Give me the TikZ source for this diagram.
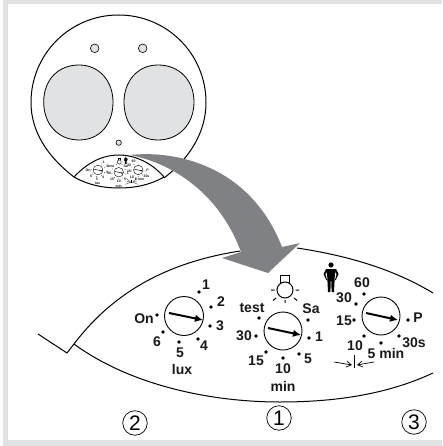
\documentclass[tikz,border=0pt]{standalone}
\usepackage{fontspec}
\setmainfont{Liberation Sans}
\usetikzlibrary{arrows.meta}
\definecolor{framegray}{HTML}{E1E2E3}
\definecolor{arrowgray}{HTML}{808184}
\tikzset{
  outline/.style={draw=black,line width=1pt},
  dialring/.style={draw=black,line width=0.9pt,fill=white},
  pointer/.style={draw=black,line width=2pt,-{Latex[length=8pt,width=7.5pt]}},
  iconline/.style={line width=1pt},
  thinline/.style={line width=0.7pt},
  lbl/.style={font=\bfseries\fontsize{14}{14}\selectfont,inner sep=0pt,text=black!90},
  circnum/.style={circle,draw=black,line width=0.7pt,minimum size=24.5pt,inner sep=0pt,font=\fontsize{21}{21}\selectfont},
  mini/.style={
    dialring/.append style={line width=0.4pt},
    pointer/.style={draw=black,line width=0.5pt,-{Latex[length=1.8pt,width=1.7pt]}},
    iconline/.style={line width=0.35pt},
    thinline/.style={line width=0.25pt}}
}
\newcommand{\dotat}[2]{\fill (#1,#2) circle (1.8);}
\newcommand{\luxdial}{%
  \draw[dialring] (184,316) circle (19.5);
  \draw[pointer] (169,313) -- (203,320);
  \foreach \x/\y in {199/292,211/307,210/326,198/339,179/342,163/332,157/315}{\dotat{\x}{\y}}
  \node[lbl] (luxa) at (206,285) {1};
  \node[lbl] (luxb) at (221,302) {2};
  \node[lbl] (luxc) at (220,326) {3};
  \node[lbl] (luxd) at (204,346) {4};
  \node[lbl] (luxe) at (180,353) {5};
  \node[lbl] (luxf) at (157,342) {6};
  \node[lbl] (luxon) at (144,319) {On};
  \node[lbl] (luxname) at (182,369) {lux};
}
\newcommand{\timedial}{%
  \draw[dialring] (283,331) circle (19);
  \draw[pointer] (268,328) -- (301,335);
  \foreach \x/\y in {259/318,256/336,266/352,283/358,299/354,309/338,308/320}{\dotat{\x}{\y}}
  \node[lbl] (tmtest) at (252,308) {test};
  \node[lbl] (tmb) at (244,336) {30};
  \node[lbl] (tmc) at (256,361) {15};
  \node[lbl] (tmd) at (283,369) {10};
  \node[lbl] (tme) at (283,386) {min};
  \node[lbl] (tmf) at (308,359) {5};
  \node[lbl] (tmg) at (319,337) {1};
  \node[lbl] (tmh) at (311,309) {Sa};
  % lamp icon
  \draw[iconline] (285,290) circle (8);
  \draw[iconline] (280.5,283) -- (280.5,275.5) -- (289,275.5) -- (289,283);
  \draw[iconline] (271,290) -- (274.5,290) (295.5,290) -- (299,290)
     (276,298) -- (273,300.5) (294,298) -- (297,300.5) (285,300) -- (285,303);
}
\newcommand{\presdial}{%
  \draw[dialring] (381,316) circle (19);
  \draw[pointer] (366,313) -- (398,320);
  \foreach \x/\y in {364/294,356/304,354/320,364/336,381/343,399/336,408/320}{\dotat{\x}{\y}}
  \node[lbl] (pra) at (362,283) {60};
  \node[lbl] (prb) at (344,298) {30};
  \node[lbl] (prc) at (344,321) {15};
  \node[lbl] (prd) at (355,346) {10};
  \node[lbl] (pre) at (386,353) {5 min};
  \node[lbl] (prf) at (414,343) {30s};
  \node[lbl] (prg) at (418,318) {P};
  % person icon
  \fill (331,265) circle (2.6);
  \fill (326,269) -- (336,269) -- (338.5,274) -- (335.8,280) -- (335,280) -- (336.6,274) -- (335,272) -- (334.5,282) -- (334,292) -- (331.6,292) -- (331.3,281) -- (330.7,281) -- (330.4,292) -- (328,292) -- (327.5,282) -- (327,272) -- (325.4,274) -- (327,280) -- (326.2,280) -- (323.5,274) -- cycle;
  % distance marker
  \draw[iconline] (354,355) -- (354,368);
  \draw[thinline,-{Straight Barb[length=5pt,width=6pt]}] (334,362) -- (352,365);
  \draw[thinline,-{Straight Barb[length=5pt,width=6pt]}] (374,362) -- (357,365);
}
\begin{document}
\begin{tikzpicture}[x=1pt,y=-1pt]
\useasboundingbox (0,0) rectangle (442,446);
% frame
\fill[framegray] (3,0) rectangle (442,446);
\fill[white] (8,4) rectangle (442,440);
% housing
\draw[outline] (74,177) .. controls (48,157) and (31,132) .. (31,102.5)
   .. controls (31,54) and (70,15) .. (118.5,15)
   .. controls (167,15) and (206,54) .. (206,102.5)
   .. controls (206,132) and (190,158) .. (164,178);
\fill[framegray,draw=black,line width=0.8pt] (43.7,102) .. controls (43.7,80) and (58,65) .. (79,65)
   .. controls (100,65) and (113,82) .. (113,102)
   .. controls (113,124) and (100,140) .. (79,140)
   .. controls (58,140) and (43.7,124) .. (43.7,102) -- cycle;
\fill[framegray,draw=black,line width=0.8pt] (124,102) .. controls (124,82) and (137,65) .. (158,65)
   .. controls (179,65) and (194,80) .. (194,102)
   .. controls (194,124) and (179,140) .. (158,140)
   .. controls (137,140) and (124,124) .. (124,102) -- cycle;
\filldraw[fill=framegray,draw=black,line width=0.6pt] (94.7,48.3) circle (4.3);
\filldraw[fill=framegray,draw=black,line width=0.6pt] (142.7,48.3) circle (4.3);
\filldraw[fill=framegray,draw=black,line width=0.6pt] (118.7,142.7) circle (2.7);
% small panel
\draw[outline] (74,177) .. controls (88,162) and (103,155) .. (119,155)
   .. controls (135,155) and (152,163) .. (164,177);
\draw[outline] (74,177) .. controls (88,185) and (103,188) .. (119,188)
   .. controls (135,188) and (150,185) .. (164,177);
\begin{scope}[shift={(52,91)},scale=0.25,transform shape,mini]
\luxdial
\end{scope}
\begin{scope}[shift={(48,89.5)},scale=0.25,transform shape,mini]
\timedial
\end{scope}
\begin{scope}[shift={(43,91)},scale=0.25,transform shape,mini]
\presdial
\end{scope}
% large panel
\draw[outline] (38,334) -- (67,353) -- (74,344)
   .. controls (115,290) and (170,262) .. (240,251);
\draw[outline] (297,248) .. controls (350,256) and (395,270) .. (433,293);
\draw[outline] (74,344) .. controls (130,385) and (210,402) .. (280,402)
   .. controls (340,402) and (390,393) .. (433,373);
\luxdial
\timedial
\presdial
% big arrow
\fill[arrowgray] (130,155) .. controls (175,150) and (250,165) .. (282,247)
   -- (300,243) -- (268,273) -- (222,258) -- (241,252)
   .. controls (222,200) and (180,165) .. (130,155) -- cycle;
% circled numbers
\node[circnum] (nb) at (135,423) {2};
\node[circnum] (na) at (279,418) {1};
\node[circnum] (nc) at (414,422) {3};
\end{tikzpicture}
\end{document}
